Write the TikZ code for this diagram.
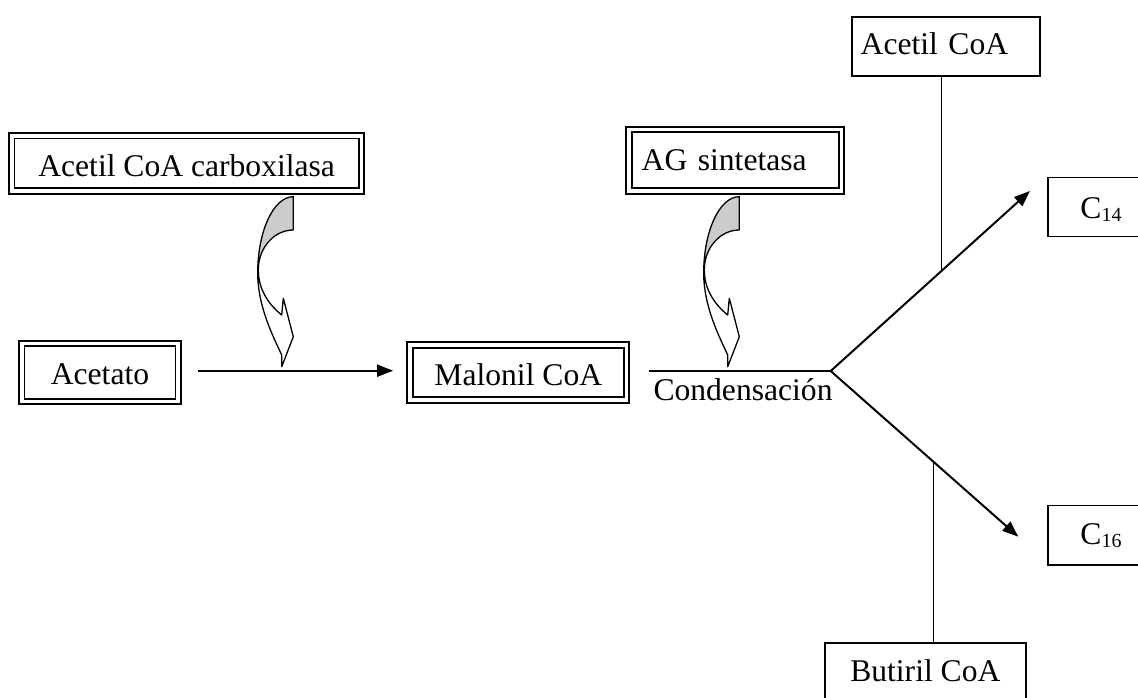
\documentclass[tikz,border=0pt]{standalone}
\usepackage{fontspec}
\setmainfont{Liberation Serif}
\usetikzlibrary{arrows.meta}

\tikzset{
  lbl/.style={font=\fontsize{31.6}{38}\selectfont},
  dbox/.style={draw, double, double distance=3.6pt, line width=1.9pt,
    inner sep=0pt, outer sep=0pt, lbl, text depth=0pt},
  sbox/.style={draw, line width=1.7pt, inner sep=0pt, outer sep=0pt,
    lbl, text depth=0pt},
  link/.style={line width=2pt},
  stem/.style={line width=1.5pt},
  arr/.style={link, -{Triangle[length=16pt,width=12pt]}},
  % curved block arrow of an enzyme acting on a step
  pics/enzarrow/.style={code={
    \filldraw[fill=gray!40, line width=1.3pt, line join=round]
      (0,0) .. controls (-19.66,0) and (-35.6,34.16) .. (-35.6,76.3)
      -- (-35,73.3) .. controls (-35,51.2) and (-19.33,33.3) .. (0,33.3)
      -- cycle;
    \filldraw[fill=white, line width=1.3pt, line join=round]
      (-35.6,76.3) .. controls (-35.6,110) and (-20,140) .. (-11.6,158.3)
      -- (-11.6,170) -- (0,140) -- (-10,101.6) -- (-11.6,118.3)
      .. controls (-22,110) and (-35,95) .. (-35,73.3) -- cycle;
  }},
}

\newcommand{\sub}[1]{\raisebox{-3pt}{\fontsize{20}{20}\selectfont #1}}

\begin{document}
\begin{tikzpicture}[x=1pt, y=-1pt]
  \useasboundingbox (0,0) rectangle (1138,698);
  \fill[white] (0,0) rectangle (1138,698);
  \clip (0,0) rectangle (1138,698);

  % enzymes
  \node[dbox, minimum width=349.8pt, minimum height=55.2pt, text height=25.4pt]
    (acc) at (186.65,163.35) {Acetil CoA carboxilasa};
  \node[dbox, text width=187.2pt, align=left, inner xsep=12.65pt,
    minimum height=61.5pt, text height=21pt]
    (ags) at (735.3,160.2) {AG sintetasa};

  % main pathway
  \node[dbox, minimum width=156.5pt, minimum height=58.1pt, text height=23pt]
    (acetato) at (100,372.5) {Acetato};
  \node[dbox, minimum width=216.5pt, minimum height=54.9pt, text height=25pt]
    (malonil) at (518.3,372.5) {Malonil CoA};

  % substrates and products
  \node[sbox, text width=170.6pt, align=left, inner xsep=8.7pt,
    minimum height=59pt, text height=17pt]
    (acoa) at (946,46.5) {Acetil CoA};
  \node[sbox, minimum width=106pt, minimum height=59pt, text height=22pt]
    (c14) at (1101,207) {C\sub{14}};
  \node[sbox, minimum width=106pt, minimum height=59.5pt, text height=17.5pt]
    (c16) at (1101,535.25) {C\sub{16}};
  \node[sbox, anchor=north, minimum width=201.3pt, inner ysep=14.4pt,
    text height=24pt, text depth=60pt]
    (butiril) at (925.35,643.3) {Butiril CoA};

  \node[lbl, anchor=base west, inner sep=0pt] (cond) at (653.3,400) {Condensación};

  % junction points
  \coordinate (lineL) at (649.3,371);
  \coordinate (fork) at (830.7,371);
  \coordinate (tip14) at (1030,191);
  \coordinate (tip16) at (1018.3,536.7);
  \coordinate (j1) at (941.6,270);
  \coordinate (j2) at (933.3,461.6);

  % connectors
  \draw[arr, shorten <=19.75pt, shorten >=17pt]
    ([yshift=1.8pt]acetato.east) -- ([yshift=1.8pt]malonil.west);
  \draw[link] (lineL) -- (fork);
  \draw[arr] (fork) -- (tip14);
  \draw[arr] (fork) -- (tip16);
  \draw[stem] (acoa.south -| j1) -- (j1);
  \draw[stem] (j2) -- (j2 |- butiril.north);

  % enzyme arrows
  \pic (ea1) at (293.3,196.7) {enzarrow};
  \pic (ea2) at (739.3,196.7) {enzarrow};
\end{tikzpicture}
\end{document}
